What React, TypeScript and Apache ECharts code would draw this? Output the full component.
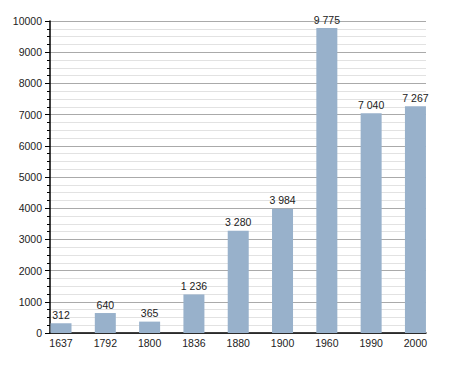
import React, { useEffect, useRef } from "react";
import * as echarts from "echarts";

const categories = ["1637", "1792", "1800", "1836", "1880", "1900", "1960", "1990", "2000"];
const population = [312, 640, 365, 1236, 3280, 3984, 9775, 7040, 7267];
const yTicks = { min: 0, max: 10000, interval: 1000 };

const fmt = (v: number) => String(v).replace(/\B(?=(\d{3})+(?!\d))/g, " ");

export default function App() {
  const ref = useRef<HTMLDivElement>(null);
  useEffect(() => {
    if (!ref.current) return;
    const chart = echarts.init(ref.current, null, { renderer: "svg" });
    const font = "Liberation Sans, Arial, sans-serif";
    chart.setOption({
      animation: false,
      grid: [
        { left: 50, right: 29, top: 21, bottom: 40 },
        { left: 38.85, right: 17.4, top: 21, bottom: 40 },
      ],
      xAxis: [
        {
          type: "category",
          gridIndex: 0,
          data: categories,
          axisLine: { show: true, lineStyle: { color: "#000", width: 1.5 } },
          axisTick: { show: false },
          axisLabel: { show: false },
          splitLine: { show: false },
          z: 0,
        },
        {
          type: "category",
          gridIndex: 1,
          data: categories,
          axisLine: { show: false },
          axisTick: { show: false },
          axisLabel: { color: "#222", fontSize: 10.5, fontFamily: font, margin: 4 },
          splitLine: { show: false },
        },
      ],
      yAxis: [
        {
          type: "value",
          gridIndex: 0,
          min: yTicks.min,
          max: yTicks.max,
          interval: yTicks.interval,
          axisLine: { show: true, lineStyle: { color: "#000", width: 1.5 } },
          axisTick: { show: true, length: 5, lineStyle: { color: "#000" } },
          minorTick: { show: true, splitNumber: 4, length: 3, lineStyle: { color: "#000" } },
          axisLabel: { color: "#222", fontSize: 10.5, fontFamily: font, margin: 8, formatter: (v: number) => String(v) },
          splitLine: { show: true, lineStyle: { color: "#aaaaaa", width: 1 } },
          minorSplitLine: { show: true, lineStyle: { color: "#e2e2e2", width: 1 } },
          z: 0,
        },
        {
          type: "value",
          gridIndex: 1,
          min: yTicks.min,
          max: yTicks.max,
          interval: yTicks.interval,
          show: false,
          splitLine: { show: false },
        },
      ],
      series: [
        {
          type: "bar",
          xAxisIndex: 1,
          yAxisIndex: 1,
          data: population,
          barWidth: 21,
          z: 3,
          itemStyle: { color: "#98b1cb" },
          label: {
            show: true,
            position: "top",
            distance: 3,
            color: "#222",
            fontSize: 10.5,
            fontFamily: font,
            formatter: (p: any) => fmt(p.value),
          },
        },
      ],
    });
    return () => chart.dispose();
  }, []);
  return <div ref={ref} style={{ width: 455, height: 373, margin: -8 }} />;
}
